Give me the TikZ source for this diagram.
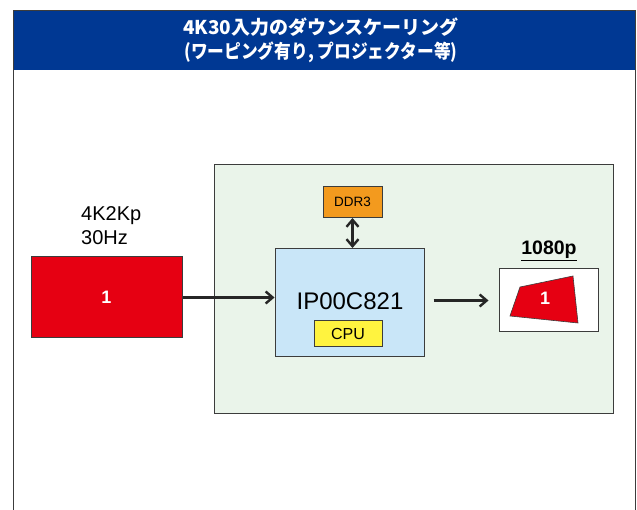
\documentclass[tikz,border=0pt]{standalone}
\usepackage{fontspec}
\setmainfont{Liberation Sans}
\newfontfamily\jpfont{Noto Sans CJK JP}
\usepackage{tikz}
\usetikzlibrary{arrows.meta,positioning,calc}
\definecolor{hdrblue}{HTML}{003893}
\definecolor{pic}{HTML}{E60012}
\definecolor{board}{HTML}{EAF4EA}
\definecolor{chip}{HTML}{C9E6F8}
\definecolor{cpuyel}{HTML}{FFF33F}
\definecolor{mem}{HTML}{F39A1E}
\definecolor{edge}{HTML}{3C3C3C}

\begin{document}
\begin{tikzpicture}[x=1pt,y=-1pt,>={Straight Barb[length=7pt,width=12pt]},
box/.style={draw=edge,line width=1pt,inner sep=0pt},
arr/.style={->,line width=2.4pt,draw=black!85},
lbl/.style={inner sep=0pt,align=left}]
\useasboundingbox (0,0) rectangle (637,510);
% frame and title
\fill[hdrblue] (13,11) rectangle (635,70);
\draw[edge,line width=1pt] (13,510) -- (13,11) -- (635,11) -- (635,510);
\node[text=white,font=\jpfont\bfseries\fontsize{19}{24}\selectfont,align=center]
 (title) at (321,40) {4K30入力のダウンスケーリング\\\scalebox{0.88}[1]{(ワーピング有り, プロジェクター等)}};
% board
\node[box,fill=board,minimum width=399pt,minimum height=248pt] (brd) at (413.5,289) {};
% input picture
\node[box,fill=pic,minimum width=151pt,minimum height=81pt,text=white,
 font=\bfseries\fontsize{18}{20}\selectfont] (src) at (106.5,297.5) {1};
\node[lbl,font=\fontsize{20}{24}\selectfont,anchor=south west] (fmt) at (81,245) {4K2Kp\\30Hz};
% chip
\node[box,fill=chip,minimum width=149pt,minimum height=108pt] (ip) at (349.5,302.5) {};
\node[lbl,font=\fontsize{24}{27}\selectfont] (ipname) at (350,301) {IP00C821};
\node[box,fill=cpuyel,minimum width=68pt,minimum height=26pt,font=\fontsize{16}{18}\selectfont]
 (cpu) at (348,334) {CPU};
\node[box,fill=mem,minimum width=59pt,minimum height=31pt,font=\fontsize{13.5}{15}\selectfont]
 (ddr) at (352.5,202) {DDR3};
% output picture
\node[box,fill=white,minimum width=99pt,minimum height=63pt] (out) at (548.5,300.5) {};
\node[lbl,font=\bfseries\fontsize{19.5}{22}\selectfont] (res) at (549,251) {\underline{1080p}};
\filldraw[draw=edge,line width=0.6pt,fill=pic] (520,287) -- (573,276) -- (578,323) -- (510,316) -- cycle;
\node[text=white,font=\bfseries\fontsize{18}{20}\selectfont] (warp) at (545,298) {1};
% connectors
\draw[arr] (src.east) -- (src.east -| ip.west);
\draw[arr] ([xshift=9pt]ip.east |- out.west) -- ([xshift=-10pt]out.west);
\draw[arr,<->] (ddr.south) -- (ddr.south |- ip.north);
\end{tikzpicture}
\end{document}
